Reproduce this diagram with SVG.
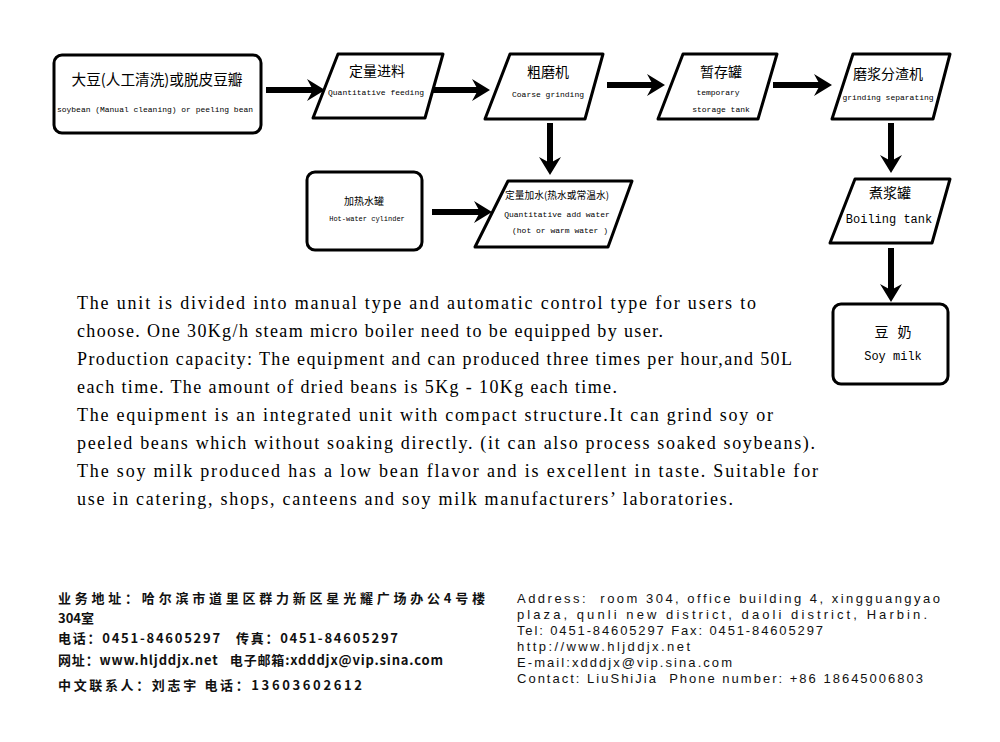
<svg xmlns="http://www.w3.org/2000/svg" width="1000" height="742" viewBox="0 0 1000 742">
<defs>
<style>
.box{fill:#fff;stroke:#000;stroke-width:3;stroke-linejoin:round}
.cn{font-family:"Noto Sans CJK SC","Noto Sans",sans-serif;fill:#000;text-anchor:middle}
.en{font-family:"Liberation Mono","DejaVu Sans Mono",monospace;fill:#000;text-anchor:middle}
.arr{stroke:#000;stroke-width:6;fill:none;marker-end:url(#ah)}
.para{font-family:"Liberation Serif",serif;font-size:18px;fill:#000}
.fl{font-family:"Noto Sans CJK SC","Noto Sans",sans-serif;font-size:13px;font-weight:bold;fill:#111}
.fr{font-family:"Liberation Sans",Arial,sans-serif;font-size:13px;fill:#111}
</style>
<marker id="ah" markerUnits="userSpaceOnUse" viewBox="-7 -12 20 24" markerWidth="20" markerHeight="24" refX="0" refY="0" orient="auto">
<path d="M12,0 L-6,-11 L0,0 L-6,11 Z" fill="#000"/>
</marker>
</defs>
<rect width="1000" height="742" fill="#fff"/>

<g id="connectors">
<line class="arr" x1="266" y1="90" x2="313" y2="90"/>
<line class="arr" x1="433" y1="90" x2="478" y2="90"/>
<line class="arr" x1="607" y1="85" x2="653" y2="85"/>
<line class="arr" x1="773" y1="85" x2="820" y2="85"/>
<line class="arr" x1="550" y1="123" x2="550" y2="163"/>
<line class="arr" x1="891" y1="123" x2="891" y2="161"/>
<line class="arr" x1="432" y1="212" x2="480" y2="212"/>
<line class="arr" x1="891" y1="248" x2="891" y2="290"/>
</g>

<g id="n-soybean">
<rect class="box" x="54" y="55" width="207" height="78" rx="8"/>
<text class="cn" x="157" y="85" font-size="15" textLength="171" lengthAdjust="spacingAndGlyphs">大豆(人工清洗)或脱皮豆瓣</text>
<text class="en" x="155" y="112" font-size="8" textLength="196" lengthAdjust="spacingAndGlyphs">soybean (Manual cleaning) or peeling bean</text>
</g>

<g id="n-feeding">
<polygon class="box" points="338,54 443,54 425,118 313,118"/>
<text class="cn" x="377" y="76" font-size="14">定量进料</text>
<text class="en" x="376" y="95" font-size="8">Quantitative feeding</text>
</g>

<g id="n-coarse">
<polygon class="box" points="510,54 603,54 585,119 485,119"/>
<text class="cn" x="548" y="77" font-size="14">粗磨机</text>
<text class="en" x="548" y="97" font-size="8">Coarse grinding</text>
</g>

<g id="n-storage">
<polygon class="box" points="683,54 777,54 758,119 658,119"/>
<text class="cn" x="721" y="77" font-size="14">暂存罐</text>
<text class="en" x="718" y="95" font-size="8">temporary</text>
<text class="en" x="721" y="112" font-size="8">storage tank</text>
</g>

<g id="n-separating">
<polygon class="box" points="853,54 950,54 933,119 832,119"/>
<text class="cn" x="888" y="79" font-size="14">磨浆分渣机</text>
<text class="en" x="888" y="100" font-size="8">grinding separating</text>
</g>

<g id="n-hotwater">
<rect class="box" x="307" y="172" width="115" height="78" rx="8"/>
<text class="cn" x="364" y="205" font-size="10">加热水罐</text>
<text class="en" x="367" y="221" font-size="7">Hot-water cylinder</text>
</g>

<g id="n-addwater">
<polygon class="box" points="508,181 632,181 608,247 475,247"/>
<text class="cn" x="557" y="199" font-size="10" textLength="104" lengthAdjust="spacingAndGlyphs">定量加水(热水或常温水)</text>
<text class="en" x="557" y="217" font-size="8">Quantitative add water</text>
<text class="en" x="560" y="233" font-size="8">(hot or warm water )</text>
</g>

<g id="n-boiling">
<polygon class="box" points="855,179 950,179 932,243 830,243"/>
<text class="cn" x="890" y="198" font-size="14">煮浆罐</text>
<text class="en" x="889" y="223" font-size="12">Boiling tank</text>
</g>

<g id="n-soymilk">
<rect class="box" x="833" y="304" width="115" height="80" rx="8"/>
<text class="cn" x="893" y="337" font-size="14" xml:space="preserve" textLength="37" lengthAdjust="spacing">豆 奶</text>
<text class="en" x="893" y="360" font-size="12">Soy milk</text>
</g>

<g id="description">
<text class="para" x="77" y="309" textLength="679" lengthAdjust="spacing">The unit is divided into manual type and automatic control type for users to</text>
<text class="para" x="77" y="337" textLength="586" lengthAdjust="spacing">choose. One 30Kg/h steam micro boiler need to be equipped by user.</text>
<text class="para" x="77" y="365" textLength="715" lengthAdjust="spacing">Production capacity: The equipment and can produced three times per hour,and 50L</text>
<text class="para" x="77" y="393" textLength="540" lengthAdjust="spacing">each time. The amount of dried beans is 5Kg - 10Kg each time.</text>
<text class="para" x="77" y="421" textLength="696" lengthAdjust="spacing">The equipment is an integrated unit with compact structure.It can grind soy or</text>
<text class="para" x="77" y="449" textLength="738" lengthAdjust="spacing">peeled beans which without soaking directly. (it can also process soaked soybeans).</text>
<text class="para" x="77" y="477" textLength="741" lengthAdjust="spacing">The soy milk produced has a low bean flavor and is excellent in taste. Suitable for</text>
<text class="para" x="77" y="505" textLength="656" lengthAdjust="spacing">use in catering, shops, canteens and soy milk manufacturers’ laboratories.</text>
</g>

<g id="contact-cn">
<text class="fl" x="58" y="603" textLength="427" lengthAdjust="spacing">业务地址：哈尔滨市道里区群力新区星光耀广场办公4号楼</text>
<text class="fl" x="58" y="623">304室</text>
<text class="fl" x="58" y="643" textLength="340" lengthAdjust="spacing" xml:space="preserve">电话：0451-84605297   传真：0451-84605297</text>
<text class="fl" x="58" y="665" textLength="385" lengthAdjust="spacing" xml:space="preserve">网址：www.hljddjx.net   电子邮箱:xdddjx@vip.sina.com</text>
<text class="fl" x="58" y="690" textLength="304" lengthAdjust="spacing" xml:space="preserve">中文联系人：刘志宇 电话：13603602612</text>
</g>

<g id="contact-en">
<text class="fr" x="517" y="603" textLength="423" lengthAdjust="spacing" xml:space="preserve">Address:  room 304, office building 4, xingguangyao</text>
<text class="fr" x="517" y="619" textLength="410" lengthAdjust="spacing">plaza, qunli new district, daoli district, Harbin.</text>
<text class="fr" x="517" y="635" textLength="306" lengthAdjust="spacing">Tel: 0451-84605297 Fax: 0451-84605297</text>
<text class="fr" x="517" y="651" textLength="173" lengthAdjust="spacing">http://www.hljddjx.net</text>
<text class="fr" x="517" y="667" textLength="215" lengthAdjust="spacing">E-mail:xdddjx@vip.sina.com</text>
<text class="fr" x="517" y="683" textLength="406" lengthAdjust="spacing" xml:space="preserve">Contact: LiuShiJia  Phone number: +86 18645006803</text>
</g>
</svg>
